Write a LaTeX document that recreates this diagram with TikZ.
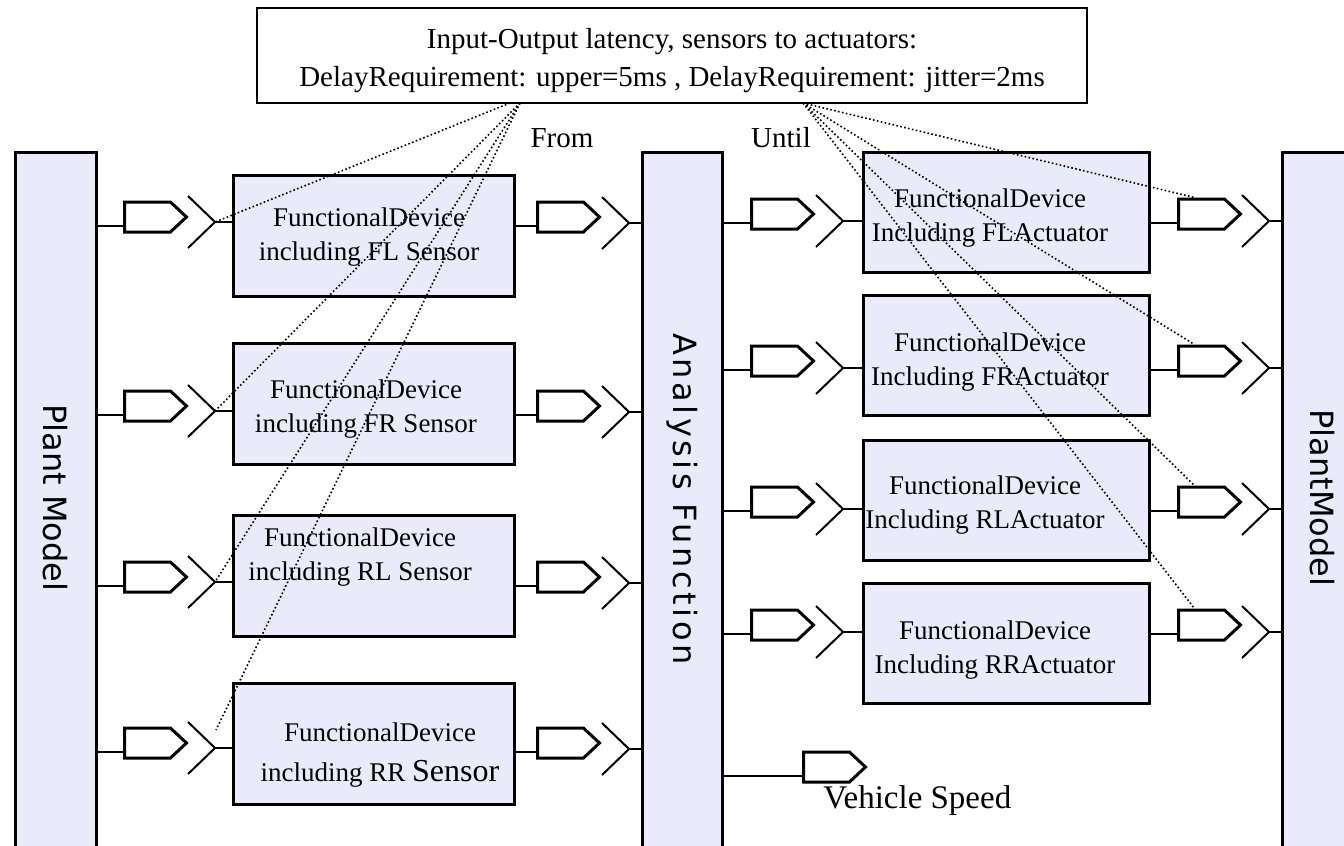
\documentclass[tikz,border=0pt]{standalone}
\usepackage{fontspec}
\setmainfont{Liberation Serif}
\newfontfamily\blocksans{DejaVu Sans}
\newfontfamily\widesans[LetterSpace=11]{DejaVu Sans}
\usetikzlibrary{shapes.symbols}

\definecolor{blockfill}{RGB}{234,234,250}

\begin{document}
\begin{tikzpicture}[x=0.5pt,y=-0.5pt,
  block/.style={draw, line width=1.5pt, fill=blockfill, inner sep=0pt},
  port/.style={shape=signal, signal to=east, signal pointer angle=86, draw,
    line width=1.5pt, fill=white, minimum width=31pt, minimum height=15pt,
    inner sep=0pt, anchor=west},
  wire/.style={line width=1pt},
  trace/.style={line width=0.8pt, dash pattern=on 0.8pt off 1.2pt},
  txt/.style={font=\fontsize{13.5}{17}\selectfont, inner sep=0pt, align=center},
  vlabel/.style={font=\blocksans\fontsize{16}{18}\selectfont, rotate=-90, inner sep=0pt},
  chev/.pic={\draw[line width=1pt] (-27,-26) -- (0,0) -- (-27,26);}
]
\useasboundingbox (0,0) rectangle (1344,846);

% requirement note
\node[draw, line width=1pt, minimum width=415pt, minimum height=47.5pt, inner sep=0pt]
  (req) at (672,55.5) {};
\node[font=\fontsize{14.5}{19}\selectfont, align=center, inner sep=0pt]
  (reqt) at (672,61) {Input-Output latency, sensors to actuators:\\
  DelayRequirement: upper=5ms , DelayRequirement: jitter=2ms};
\node[font=\fontsize{14.5}{17}\selectfont, inner sep=0pt] (from) at (562,138) {From};
\node[font=\fontsize{14.5}{17}\selectfont, inner sep=0pt] (until) at (781,138) {Until};

% tall blocks
\node[block, minimum width=40.5pt, minimum height=354pt] (pmL) at (55.5,506) {};
\node[block, minimum width=40pt, minimum height=354pt] (af) at (682,506) {};
\node[block, minimum width=49pt, minimum height=354pt] (pmR) at (1331,506) {};
\node[vlabel] (pmLt) at (55,498) {Plant Model};
\node[vlabel, font=\widesans\fontsize{16}{18}\selectfont] (aft) at (682,499) {Analysis Function};
\node[vlabel] (pmRt) at (1322,498) {PlantModel};

% sensor devices
\node[block, minimum width=140.5pt, minimum height=60.5pt] (sFL) at (373.5,235.5) {};
\node[block, minimum width=140.5pt, minimum height=60.5pt] (sFR) at (373.5,403.5) {};
\node[block, minimum width=140.5pt, minimum height=60.5pt] (sRL) at (373.5,576) {};
\node[block, minimum width=140.5pt, minimum height=60.5pt] (sRR) at (373.5,744) {};
\node[txt] (tFL) at (369,237) {FunctionalDevice\\including FL Sensor};
\node[txt] (tFR) at (366,409) {FunctionalDevice\\including FR Sensor};
\node[txt] (tRL) at (360,557) {FunctionalDevice\\including RL Sensor};
\node[txt, font=\fontsize{13.5}{20}\selectfont] (tRR) at (380,755)
  {FunctionalDevice\\including RR {\fontsize{16}{20}\selectfont Sensor}};

% actuator devices
\node[block, minimum width=143pt, minimum height=60pt] (aFL) at (1006,212) {};
\node[block, minimum width=143pt, minimum height=60pt] (aFR) at (1006,355) {};
\node[block, minimum width=143pt, minimum height=60pt] (aRL) at (1006,500) {};
\node[block, minimum width=143pt, minimum height=60pt] (aRR) at (1006,643) {};
\node[txt] (uFLt) at (990,218.5) {FunctionalDevice\\Including FLActuator};
\node[txt] (uFRt) at (990,362) {FunctionalDevice\\Including FRActuator};
\node[txt] (uRLt) at (985,505) {FunctionalDevice\\Including RLActuator};
\node[txt] (uRRt) at (995,650) {FunctionalDevice\\Including RRActuator};

% sensor rows: plant -> device -> analysis
\foreach \n/\L in {FL/226,FR/415,RL/586,RR/752}{
  \coordinate (r\n) at (0,\L);
  \node[port] (pin\n) at (123,{\L-9}) {};
  \coordinate (v\n) at (215,{\L-4});
  \pic at (v\n) {chev};
  \node[port] (pout\n) at (536,{\L-9}) {};
  \coordinate (w\n) at (629,{\L-3});
  \pic at (w\n) {chev};
  \draw[wire] (pmL.east |- r\n) -- (pin\n.west |- r\n);
  \draw[wire] (v\n) -- (s\n.west |- v\n);
  \draw[wire] (s\n.east |- r\n) -- (pout\n.west |- r\n);
  \draw[wire] (w\n) -- (af.west |- w\n);
}

% actuator rows: analysis -> device -> plant
\foreach \n/\L in {FL/223,FR/370,RL/511,RR/634}{
  \coordinate (q\n) at (0,\L);
  \node[port] (ain\n) at (750,{\L-9}) {};
  \coordinate (c\n) at (843,{\L-2});
  \pic at (c\n) {chev};
  \node[port] (aout\n) at (1177,{\L-9}) {};
  \coordinate (z\n) at (1269,{\L-2});
  \pic at (z\n) {chev};
  \draw[wire] (af.east |- q\n) -- (ain\n.west |- q\n);
  \draw[wire] (c\n) -- (a\n.west |- c\n);
  \draw[wire] (a\n.east |- q\n) -- (aout\n.west |- q\n);
  \draw[wire] (z\n) -- (pmR.west |- z\n);
}

% vehicle speed output
\coordinate (qVS) at (0,776);
\node[port] (vs) at (802,767) {};
\draw[wire] (af.east |- qVS) -- (vs.west |- qVS);
\node[font=\fontsize{16.5}{19}\selectfont, inner sep=0pt, anchor=west] (vst) at (823,801) {Vehicle Speed};

% latency traces
\coordinate (oA) at (510,103);
\coordinate (oB) at (520,103);
\coordinate (oC) at (803,103);
\draw[trace] (oA) -- (vFL);
\draw[trace] (oB) -- (vFR);
\draw[trace] (oB) -- (vRL);
\draw[trace] (oB) -- ([xshift=0.5pt,yshift=9pt]vRR);
\foreach \n in {FL,FR,RL,RR}{
  \draw[trace] (oC) -- ([xshift=-3.5pt]aout\n.north);
}
\end{tikzpicture}
\end{document}
